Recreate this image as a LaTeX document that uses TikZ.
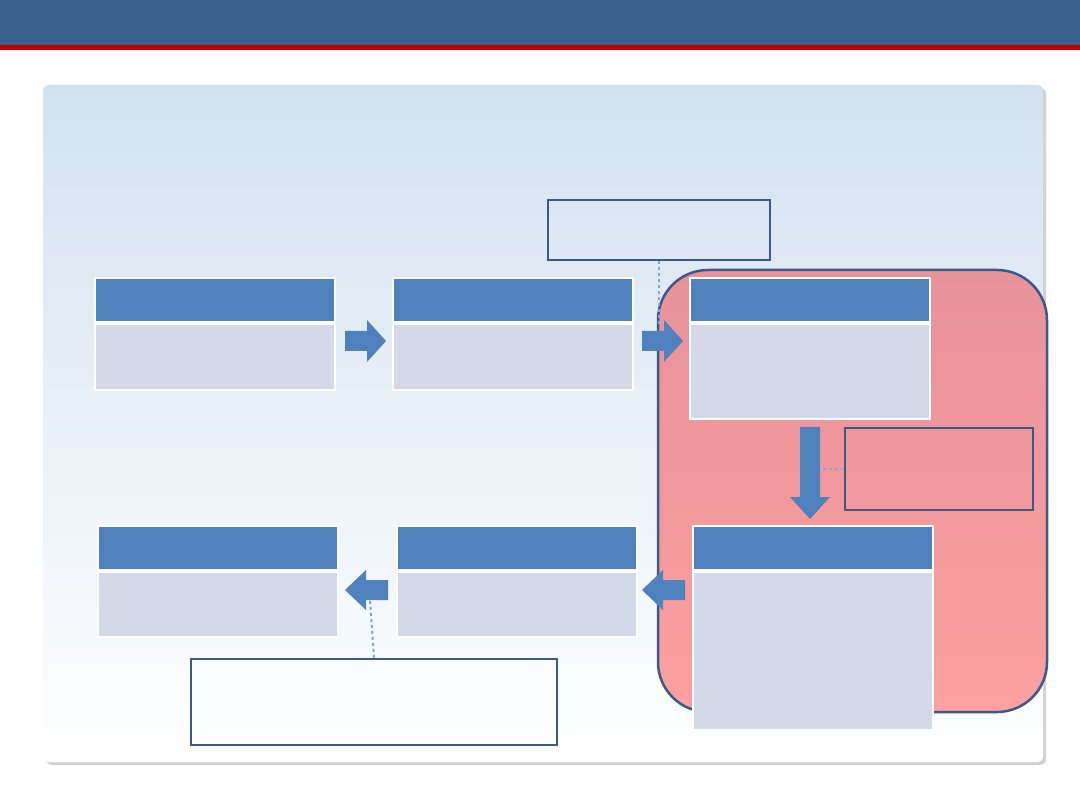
\documentclass[tikz,border=0pt]{standalone}
\usetikzlibrary{shadows}
\definecolor{banner}{HTML}{36618F}
\definecolor{bred}{HTML}{C00000}
\definecolor{hdr}{HTML}{4F81BD}
\definecolor{bodyc}{HTML}{D3D9E6}
\definecolor{edgeb}{HTML}{3A5A8A}
\definecolor{bgtop}{HTML}{D3E2F0}
\definecolor{redtop}{HTML}{E8929A}
\definecolor{redbot}{HTML}{FCA0A0}
\definecolor{dashc}{HTML}{7FA6E0}
\begin{document}
\begin{tikzpicture}[x=1pt,y=-1pt,
  hdrbox/.style={fill=hdr,draw=white,line width=1.2pt},
  bodybox/.style={fill=bodyc,draw=white,line width=1.2pt},
  callout/.style={draw=edgeb,line width=2.5pt},
  blockarrow/.style={fill=hdr,draw=none},
  link/.style={draw=dashc,dashed,line width=2pt}]
\useasboundingbox (0,0) rectangle (1080,810);
\fill[white] (0,0) rectangle (1080,810);
\fill[banner] (0,0) rectangle (1080,45);
\fill[bred] (0,45) rectangle (1080,50);
% panel
\fill[gray!35,rounded corners=6pt] (46,88) rectangle (1046,765);
\shade[top color=bgtop,bottom color=white,rounded corners=6pt] (43,85) rectangle (1043,762);
% red region
\shade[top color=redtop,bottom color=redbot,rounded corners=50pt,draw=edgeb,line width=2.5pt] (658,270) rectangle (1047,712);
% boxes
\foreach \n/\x/\y/\b in {a/95/278/390,b/393/278/390,c/690/278/419,d/98/526/637,e/397/526/637,f/693/526/730}{
  \path[hdrbox] (\x,\y) rectangle ++(240,44);
  \path[bodybox] (\x,\y+46) rectangle (\x+240,\b);
}
% callouts
\node[callout,minimum width=222pt,minimum height=60pt,inner sep=0pt] (ct) at (659,230) {};
\node[callout,minimum width=188pt,minimum height=82pt,inner sep=0pt] (cr) at (939,469) {};
\node[callout,minimum width=366pt,minimum height=86pt,inner sep=0pt] (cb) at (374,702) {};
\coordinate (t1) at (659,325);
\coordinate (t2) at (820,469);
\coordinate (t3) at (370,600);
\draw[link] (ct.south) -- (t1);
\draw[link] (cr.west) -- (t2);
\draw[link] (cb.north) -- (t3);
% arrows
\foreach \x in {345,642}{
  \path[blockarrow] (\x,331) -- (\x+22,331) -- (\x+22,320) -- (\x+41,341) -- (\x+22,362) -- (\x+22,351) -- (\x,351) -- cycle;
}
\foreach \x in {388,685}{
  \path[blockarrow] (\x,580) -- (\x-22,580) -- (\x-22,570) -- (\x-43,590) -- (\x-22,610) -- (\x-22,600) -- (\x,600) -- cycle;
}
\path[blockarrow] (800,427) -- (820,427) -- (820,497) -- (830,497) -- (810,519) -- (790,497) -- (800,497) -- cycle;
\end{tikzpicture}
\end{document}
